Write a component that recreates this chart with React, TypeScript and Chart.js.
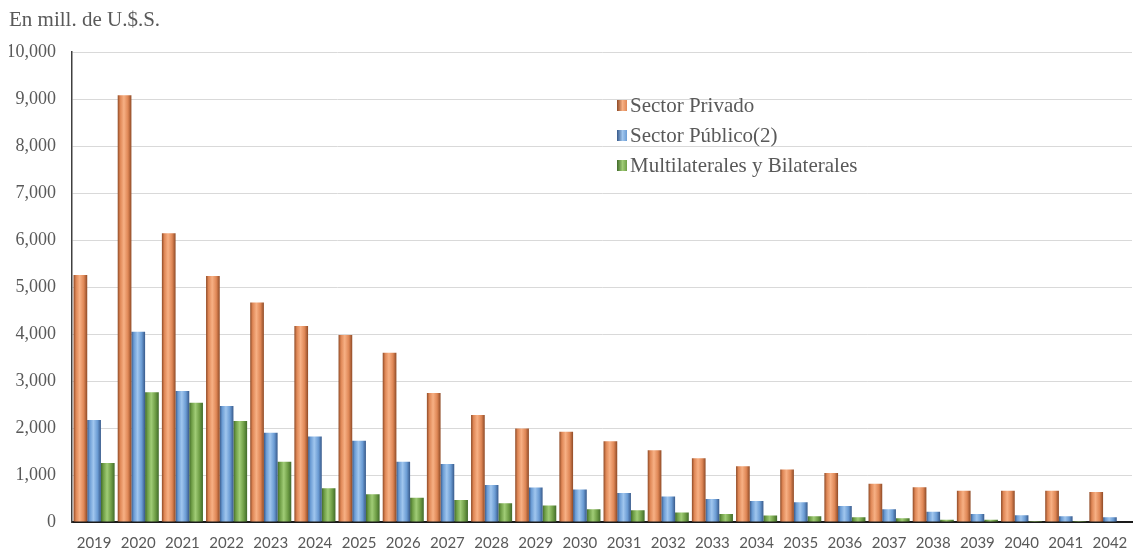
import { useEffect, useRef } from 'react';
import { Chart, registerables } from 'chart.js';

Chart.register(...registerables);

const categories = [
  '2019', '2020', '2021', '2022', '2023', '2024', '2025', '2026', '2027', '2028', '2029', '2030',
  '2031', '2032', '2033', '2034', '2035', '2036', '2037', '2038', '2039', '2040', '2041', '2042',
];
const seriesNames = ['Sector Privado', 'Sector Público(2)', 'Multilaterales y Bilaterales'];
const sectorPrivado = [5255, 9085, 6145, 5235, 4670, 4170, 3980, 3600, 2745, 2275, 1990, 1920, 1720, 1525, 1355, 1185, 1115, 1045, 815, 740, 665, 665, 665, 640];
const sectorPublico = [2170, 4050, 2790, 2470, 1900, 1820, 1730, 1280, 1235, 785, 735, 690, 615, 545, 490, 447, 418, 340, 270, 220, 170, 143, 120, 100];
const multilaterales = [1255, 2760, 2540, 2150, 1283, 717, 590, 518, 470, 400, 350, 270, 250, 200, 170, 140, 120, 100, 78, 50, 50, 20, 20, 10];
const yTicks = [0, 1000, 2000, 3000, 4000, 5000, 6000, 7000, 8000, 9000, 10000];
const titleText = 'En mill. de U.$.S.';

const CAT_PCT = 0.93;
const palettes = [
  { dark: '#8f4a26', mid: '#df8756', light: '#f7b084' },
  { dark: '#37598a', mid: '#6b9cd4', light: '#a0c6ee' },
  { dark: '#416b2a', mid: '#6f9e46', light: '#a0cc76' },
];

function barFill(ctx: any) {
  const chart = ctx.chart;
  const pal = palettes[ctx.datasetIndex % palettes.length];
  const xs = chart.scales && chart.scales.x;
  if (!chart.chartArea || !xs || ctx.type !== 'data') return pal.mid;
  const catW = (xs.right - xs.left) / categories.length;
  const groupW = catW * CAT_PCT;
  const bw = groupW / 3;
  const center = xs.getPixelForValue(ctx.dataIndex);
  const left = center - groupW / 2 + ctx.datasetIndex * bw;
  if (!isFinite(left)) return pal.mid;
  const g = chart.ctx.createLinearGradient(left, 0, left + bw, 0);
  g.addColorStop(0, pal.dark);
  g.addColorStop(0.18, pal.mid);
  g.addColorStop(0.45, pal.light);
  g.addColorStop(0.75, pal.mid);
  g.addColorStop(1, pal.dark);
  return g;
}

const legendTops = [93, 123, 153];

export default function App() {
  const ref = useRef<HTMLCanvasElement | null>(null);

  useEffect(() => {
    document.body.style.margin = '0';
    document.body.style.overflow = 'hidden';
    const canvas = ref.current;
    if (!canvas) return;
    const chart = new Chart(canvas, {
      type: 'bar',
      data: {
        labels: categories,
        datasets: [sectorPrivado, sectorPublico, multilaterales].map((d, i) => ({
          label: seriesNames[i],
          data: d,
          backgroundColor: barFill,
          borderWidth: 0,
          categoryPercentage: CAT_PCT,
          barPercentage: 1.0,
        })),
      },
      options: {
        responsive: false,
        animation: false,
        layout: { padding: { left: 9, right: 4, top: 0, bottom: 0 } },
        plugins: {
          legend: { display: false },
          tooltip: { enabled: false },
          title: {
            display: true,
            text: titleText,
            align: 'start',
            color: '#595959',
            font: { family: 'Liberation Serif', size: 21, weight: 'normal' },
            padding: { top: 8, bottom: 19 },
          },
        },
        scales: {
          x: {
            grid: { display: false },
            border: { display: true, color: '#1a1a1a', width: 2 },
            afterFit: (scale: any) => {
              scale.height = 30;
            },
            ticks: {
              color: '#595959',
              font: { family: 'Lato', size: 15 },
              padding: 4,
              maxRotation: 0,
              autoSkip: false,
            },
          },
          y: {
            min: yTicks[0],
            max: yTicks[yTicks.length - 1],
            afterBuildTicks: (scale: any) => {
              scale.ticks = yTicks.map((v) => ({ value: v }));
            },
            afterFit: (scale: any) => {
              scale.width = 63;
            },
            grid: { color: '#d9d9d9', lineWidth: 1, drawTicks: false },
            border: { display: true, color: '#404040', width: 1.5 },
            ticks: {
              color: '#595959',
              font: { family: 'Liberation Serif', size: 18 },
              padding: 16,
              callback: (v: any) => Number(v).toLocaleString('en-US'),
            },
          },
        },
      },
    });
    return () => chart.destroy();
  }, []);

  return (
    <div style={{ position: 'relative', width: 1136, height: 552 }}>
      <canvas ref={ref} width={1136} height={552} style={{ display: 'block' }} />
      {seriesNames.map((name, i) => (
        <div
          key={name}
          style={{
            position: 'absolute',
            left: 617,
            top: legendTops[i],
            height: 24,
            display: 'flex',
            alignItems: 'center',
            fontFamily: 'Liberation Serif',
            fontSize: 21,
            color: '#595959',
            whiteSpace: 'nowrap',
          }}
        >
          <span
            style={{
              display: 'inline-block',
              width: 10,
              height: 11,
              marginRight: 3,
              background: `linear-gradient(to right, ${palettes[i].dark}, ${palettes[i].light} 55%, ${palettes[i].mid})`,
            }}
          />
          {name}
        </div>
      ))}
    </div>
  );
}
